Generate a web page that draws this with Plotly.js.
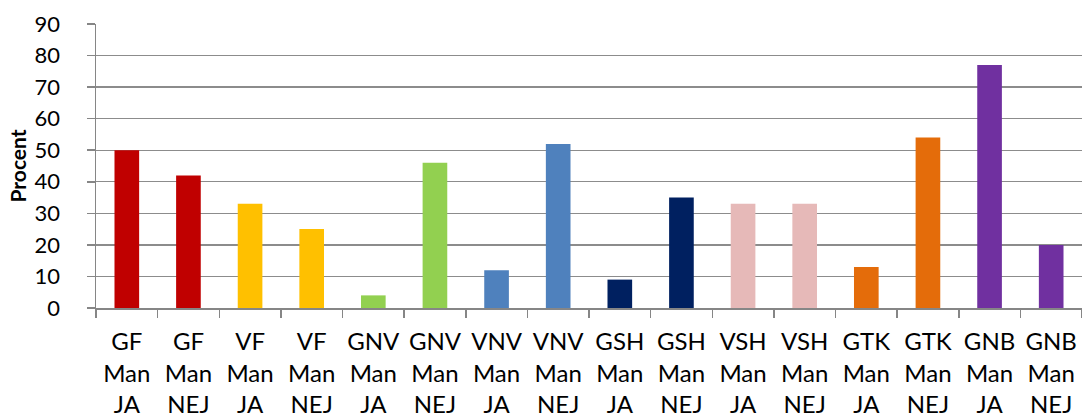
<!DOCTYPE html>
<html>
<head>
<meta charset="utf-8">
<script src="https://cdn.plot.ly/plotly-3.0.1.min.js"></script>
<style>html,body{margin:0;padding:0;background:#fff;}#chart{width:1082px;height:418px;}</style>
</head>
<body>
<div id="chart"></div>
<script>
const groups  = ['GF','GF','VF','VF','GNV','GNV','VNV','VNV','GSH','GSH','VSH','VSH','GTK','GTK','GNB','GNB'];
const genders = ['Man','Man','Man','Man','Man','Man','Man','Man','Man','Man','Man','Man','Man','Man','Man','Man'];
const answers = ['JA','NEJ','JA','NEJ','JA','NEJ','JA','NEJ','JA','NEJ','JA','NEJ','JA','NEJ','JA','NEJ'];
const values  = [50, 42, 33, 25, 4, 46, 12, 52, 9, 35, 33, 33, 13, 54, 77, 20];
const colors  = ['#C00000','#C00000','#FFC000','#FFC000','#92D050','#92D050','#4F81BD','#4F81BD',
                 '#002060','#002060','#E6B9B8','#E6B9B8','#E46C0A','#E46C0A','#7030A0','#7030A0'];
const yTicks  = [0,10,20,30,40,50,60,70,80,90];

const categories = groups.map((g,i) => g + '<br>' + genders[i] + '<br>' + answers[i]);

const trace = {
  type: 'bar',
  x: categories,
  y: values,
  marker: {color: colors},
  hoverinfo: 'x+y'
};

const font = 'Lato, "Open Sans", "DejaVu Sans", sans-serif';
const layout = {
  width: 1082, height: 418,
  margin: {l: 96, r: 0, t: 24, b: 110},
  paper_bgcolor: '#fff', plot_bgcolor: '#fff',
  showlegend: false,
  bargap: 0.6,
  font: {family: font, color: '#000'},
  xaxis: {
    type: 'category',
    tickmode: 'array', tickvals: categories, ticktext: categories,
    ticks: 'outside', tickson: 'boundaries', ticklen: 8, tickwidth: 1.5, tickcolor: '#868686',
    showline: true, linecolor: '#868686', linewidth: 1.5,
    showgrid: false,
    tickangle: 0,
    tickfont: {family: font, size: 24, color: '#000'},
    ticklabelstandoff: 12,
    fixedrange: true
  },
  yaxis: {
    range: [0, 90],
    tickmode: 'array', tickvals: yTicks,
    ticks: 'outside', ticklen: 8, tickwidth: 1.5, tickcolor: '#868686',
    showline: true, linecolor: '#868686', linewidth: 1.5,
    showgrid: true, gridcolor: '#8C8C8C', gridwidth: 1.3,
    zeroline: false,
    tickfont: {family: font, size: 22, color: '#000'},
    ticklabelstandoff: 22,
    title: {text: '<b>Procent</b>', font: {family: font, size: 21, color: '#000'}, standoff: 2},
    fixedrange: true
  }
};

Plotly.newPlot('chart', [trace], layout, {displayModeBar: false, staticPlot: true});
</script>
</body>
</html>
